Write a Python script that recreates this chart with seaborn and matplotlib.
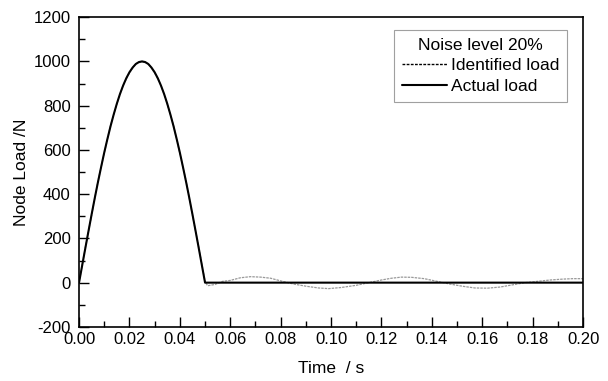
import numpy as np
import pandas as pd
import matplotlib
matplotlib.use("Agg")
import matplotlib.pyplot as plt
import seaborn as sns
from matplotlib.lines import Line2D
from matplotlib.ticker import AutoMinorLocator

sns.set_theme(style="ticks")
plt.rcParams['font.family'] = ['Liberation Sans', 'DejaVu Sans']
plt.rcParams['axes.unicode_minus'] = False
plt.rcParams['text.color'] = 'black'
plt.rcParams['axes.labelcolor'] = 'black'

# Actual load (half-sine pulse, then zero)
t_actual = [0.0, 0.00125, 0.0025, 0.00375, 0.005, 0.00625, 0.0075, 0.00875, 0.01, 0.01125,
            0.0125, 0.01375, 0.015, 0.01625, 0.0175, 0.01875, 0.02, 0.02125, 0.0225, 0.02375,
            0.025, 0.02625, 0.0275, 0.02875, 0.03, 0.03125, 0.0325, 0.03375, 0.035, 0.03625,
            0.0375, 0.03875, 0.04, 0.04125, 0.0425, 0.04375, 0.045, 0.04625, 0.0475, 0.04875,
            0.05, 0.2]
f_actual = [0, 78, 156, 233, 309, 383, 454, 522, 588, 649,
            707, 760, 809, 853, 891, 924, 951, 972, 988, 997,
            1000, 997, 988, 972, 951, 924, 891, 853, 809, 760,
            707, 649, 588, 522, 454, 383, 309, 233, 156, 78,
            0, 0]

# Identified load (noise level 20%)
t_ident = [0.0, 0.0025, 0.005, 0.0075, 0.01, 0.0125, 0.015, 0.0175, 0.02, 0.0225,
           0.025, 0.0275, 0.03, 0.0325, 0.035, 0.0375, 0.04, 0.0425, 0.045, 0.0475,
           0.05, 0.051, 0.054, 0.057, 0.06, 0.064, 0.068, 0.072, 0.076, 0.08,
           0.085, 0.09, 0.095, 0.099, 0.104, 0.11, 0.115, 0.12, 0.124, 0.128,
           0.132, 0.137, 0.142, 0.147, 0.152, 0.157, 0.162, 0.167, 0.172, 0.177,
           0.182, 0.187, 0.192, 0.196, 0.2]
f_ident = [0, 160, 305, 458, 585, 710, 806, 893, 948, 990,
           998, 990, 948, 893, 806, 710, 585, 458, 305, 160,
           5, -14, -8, 6, 10, 22, 27, 25, 20, 8,
           -6, -16, -24, -27, -22, -12, 0, 12, 20, 25,
           24, 18, 6, -6, -16, -24, -25, -20, -10, 0,
           6, 12, 16, 18, 18]

df_a = pd.DataFrame({"t": t_actual, "f": f_actual})
df_i = pd.DataFrame({"t": t_ident, "f": f_ident})

fig, ax = plt.subplots(figsize=(6.08, 3.81), dpi=100)
fig.subplots_adjust(left=0.130, right=0.959, top=0.955, bottom=0.142)

sns.lineplot(data=df_i, x="t", y="f", ax=ax, color="#999999", lw=0.9,
             linestyle=(0, (2, 0.8)), legend=False)
sns.lineplot(data=df_a, x="t", y="f", ax=ax, color="black", lw=1.5,
             legend=False)

ax.set_xlim(0, 0.2)
ax.set_ylim(-200, 1200)
xt = np.arange(0, 0.2001, 0.02)
ax.set_xticks(xt)
ax.set_xticklabels([f"{v:.2f}" for v in xt])
ax.set_yticks(np.arange(-200, 1201, 200))
ax.xaxis.set_minor_locator(AutoMinorLocator(2))
ax.yaxis.set_minor_locator(AutoMinorLocator(2))
ax.tick_params(which="major", direction="in", length=7, width=1, labelsize=12,
               colors="black", labelcolor="black")
ax.tick_params(axis="x", which="major", pad=4)
ax.tick_params(axis="y", which="major", pad=6)
ax.tick_params(which="minor", direction="in", length=4, width=1, colors="black")
for s in ax.spines.values():
    s.set_color("black")
    s.set_linewidth(1.2)
ax.set_xlabel("Time  / s", fontsize=12.5, labelpad=10)
ax.set_ylabel("Node Load /N", fontsize=12.5, labelpad=3)

h = [Line2D([], [], color="black", lw=1, linestyle=(0, (2, 1))),
     Line2D([], [], color="black", lw=1.5)]
leg = ax.legend(h, ["Identified load", "Actual load"], title="Noise level 20%",
                loc="upper right", bbox_to_anchor=(0.968, 0.958), fontsize=12.5,
                title_fontsize=12.5, frameon=True, fancybox=False,
                handlelength=2.6, handletextpad=0.2, borderpad=0.45,
                labelspacing=0.3, borderaxespad=0)
leg.get_title().set_color("black")
for t in leg.get_texts():
    t.set_color("black")
leg.get_frame().set_edgecolor("#888888")
leg.get_frame().set_linewidth(0.8)

fig.savefig("out.png", dpi=100)
